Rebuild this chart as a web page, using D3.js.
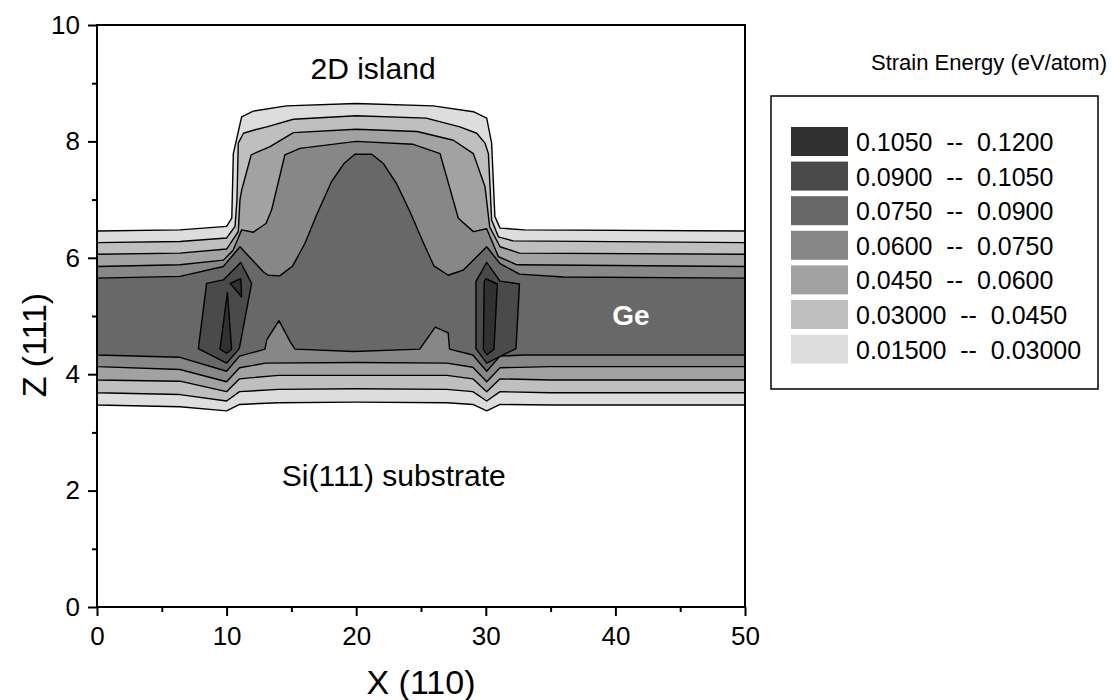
<!DOCTYPE html>
<html>
<head>
<meta charset="utf-8">
<script src="https://d3js.org/d3.v7.min.js"></script>
<style>
  body { margin: 0; background: #fff; }
  text { font-family: "Liberation Sans", Arial, sans-serif; fill: #000; }
  .axis path, .axis line { stroke: #000; stroke-width: 2px; }
  .axis text { font-size: 26px; }
  .contour { stroke: #000; stroke-width: 1.4px; stroke-linejoin: round; }
</style>
</head>
<body>
<script>
// strain energy levels (eV/atom) and their grey fills
var levels = [0.015, 0.030, 0.045, 0.060, 0.075, 0.090, 0.105];
var levelColors = ["#dddddd", "#bfbfbf", "#a2a2a2", "#878787", "#686868", "#4a4a4a", "#313131"];
var legendLabels = ["0.1050  --  0.1200", "0.0900  --  0.1050", "0.0750  --  0.0900",
  "0.0600  --  0.0750", "0.0450  --  0.0600", "0.03000  --  0.0450", "0.01500  --  0.03000"];

var xTicks = [0, 10, 20, 30, 40, 50];
var yTicks = [0, 2, 4, 6, 8, 10];

// contour lines, [x (110), z (111)]
// upper edges of the band (x from 0 to 50)
var up015 = [[0,6.46],[6.4,6.48],[10.0,6.54],[10.4,6.68],[10.52,7.79],[11.16,8.42],[12.06,8.52],[14.6,8.61],[20,8.65],[25.95,8.61],[29.04,8.51],[30.07,8.40],[30.45,7.97],[30.7,6.71],[31.1,6.51],[33,6.48],[50,6.46]];
var up030 = [[0,6.26],[6.4,6.28],[10.0,6.34],[10.65,6.54],[10.8,6.99],[10.9,7.97],[11.3,8.14],[12.2,8.20],[13.1,8.25],[15.15,8.38],[20,8.44],[25.4,8.40],[28,8.25],[29.3,8.14],[29.94,7.97],[30.2,7.79],[30.45,6.65],[30.97,6.36],[32.1,6.29],[50,6.26]];
var up045 = [[0,6.06],[6.4,6.08],[10.0,6.15],[10.9,6.45],[11.03,6.99],[11.16,7.16],[11.9,7.77],[13.35,7.91],[15.15,8.15],[20,8.21],[24.7,8.17],[27.5,8.02],[29.04,7.79],[29.94,7.22],[30.3,6.53],[31.1,6.19],[32.6,6.08],[50,6.06]];
var up060 = [[0,5.85],[6.4,5.88],[9.75,5.96],[10.5,6.13],[11.16,6.48],[12.06,6.44],[13.04,6.59],[13.47,6.82],[14.5,7.77],[15.66,7.88],[20,8.0],[24.4,7.95],[26.47,7.79],[27.88,6.68],[29.04,6.45],[30.07,6.5],[30.97,6.02],[32.4,5.88],[50,5.85]];
var up075 = [[0,5.65],[6.4,5.68],[9.75,5.85],[11.03,6.19],[12.83,5.76],[13.2,5.70],[14.1,5.69],[15.1,5.86],[16.05,6.25],[16.95,6.74],[18.1,7.31],[19.06,7.62],[19.9,7.78],[21.2,7.78],[22.1,7.62],[23.1,7.28],[24.15,6.79],[25.2,6.25],[26.0,5.86],[27.1,5.70],[28.27,5.79],[30.07,6.19],[31.1,5.9],[32.6,5.72],[36,5.67],[50,5.65]];
// lower edges of the band (x from 0 to 50)
var lo015 = [[0,3.47],[6.4,3.44],[10.0,3.37],[11.0,3.48],[14,3.51],[20,3.52],[27,3.51],[29,3.48],[30.07,3.37],[31.1,3.48],[35,3.47],[50,3.47]];
var lo030 = [[0,3.68],[6.4,3.65],[10.0,3.54],[11.0,3.70],[14,3.74],[20,3.75],[27,3.74],[29,3.70],[30.07,3.54],[31.1,3.70],[35,3.68],[50,3.68]];
var lo045 = [[0,3.90],[6.4,3.88],[10.0,3.70],[11.0,3.92],[14,3.98],[20,3.98],[27,3.98],[29,3.92],[30.07,3.70],[31.1,3.92],[35,3.90],[50,3.90]];
var lo060 = [[0,4.13],[6.4,4.08],[10.0,3.87],[11.0,4.11],[13,4.19],[20,4.20],[27,4.19],[29,4.12],[30.07,3.87],[31.1,4.11],[35,4.13],[50,4.13]];
var lo075 = [[0,4.33],[6.4,4.29],[10.0,4.05],[11.0,4.31],[12.96,4.43],[13.1,4.59],[14.04,4.92],[14.9,4.56],[15.28,4.43],[19.8,4.39],[24.9,4.43],[26.1,4.81],[27.1,4.71],[27.2,4.43],[29.0,4.33],[30.07,4.05],[31.1,4.31],[33,4.33],[50,4.33]];
// closed pockets
var pocket090L = [[8.46,5.56],[9.75,5.62],[11.09,5.92],[11.93,5.56],[10.98,4.44],[10.0,4.19],[7.82,4.44]];
var pocket090R = [[29.24,5.59],[30.07,5.92],[31.1,5.6],[32.6,5.55],[32.33,4.44],[30.07,4.19],[29.24,4.44]];
var pocket105a = [[10.06,5.40],[10.39,4.43],[10.0,4.36],[9.49,4.43]];
var pocket105b = [[10.26,5.56],[11.09,5.64],[11.16,5.33]];
var pocket105c = [[29.88,5.59],[30.0,5.64],[30.89,5.55],[30.63,4.43],[30.07,4.33],[29.81,4.43]];

var margin = {left: 97, top: 25},
    width = 648, height = 582;

var svg = d3.select("body").append("svg")
    .attr("width", 1112)
    .attr("height", 700);

var x = d3.scaleLinear().domain([0, 50]).range([margin.left, margin.left + width]);
var y = d3.scaleLinear().domain([0, 10]).range([margin.top + height, margin.top]);

var line = d3.line()
    .x(function(d) { return x(d[0]); })
    .y(function(d) { return y(d[1]); })
    .curve(d3.curveLinearClosed);

// filled regions, lowest level first
var regions = [
  {level: 0, pts: up015.concat(lo015.slice().reverse())},
  {level: 1, pts: up030.concat(lo030.slice().reverse())},
  {level: 2, pts: up045.concat(lo045.slice().reverse())},
  {level: 3, pts: up060.concat(lo060.slice().reverse())},
  {level: 4, pts: up075.concat(lo075.slice().reverse())},
  {level: 5, pts: pocket090L},
  {level: 5, pts: pocket090R},
  {level: 6, pts: pocket105a},
  {level: 6, pts: pocket105b},
  {level: 6, pts: pocket105c}
];

svg.append("g").selectAll("path")
  .data(regions)
  .enter().append("path")
    .attr("class", "contour")
    .attr("fill", function(d) { return levelColors[d.level]; })
    .attr("d", function(d) { return line(d.pts); });

// frame
svg.append("rect")
    .attr("x", margin.left).attr("y", margin.top)
    .attr("width", width).attr("height", height)
    .attr("fill", "none").attr("stroke", "#000").attr("stroke-width", 2);

// axes with minor ticks
var xAxis = d3.axisBottom(x).tickValues(xTicks).tickSize(9).tickPadding(11).tickFormat(d3.format("d"));
var yAxis = d3.axisLeft(y).tickValues(yTicks).tickSize(9).tickPadding(8).tickFormat(d3.format("d"));

svg.append("g").attr("class", "x axis")
    .attr("transform", "translate(0," + (margin.top + height) + ")")
    .call(xAxis)
  .call(function(g) { g.select(".domain").remove(); });

svg.append("g").attr("class", "x axis minor")
    .attr("transform", "translate(0," + (margin.top + height) + ")")
    .call(d3.axisBottom(x).tickValues(d3.range(5, 50, 10)).tickSize(5).tickFormat(""))
  .call(function(g) { g.select(".domain").remove(); });

svg.append("g").attr("class", "y axis")
    .attr("transform", "translate(" + margin.left + ",0)")
    .call(yAxis)
  .call(function(g) { g.select(".domain").remove(); });

svg.append("g").attr("class", "y axis minor")
    .attr("transform", "translate(" + margin.left + ",0)")
    .call(d3.axisLeft(y).tickValues(d3.range(1, 10, 2)).tickSize(5).tickFormat(""))
  .call(function(g) { g.select(".domain").remove(); });

// axis titles
svg.append("text")
    .attr("x", x(25)).attr("y", 694)
    .attr("text-anchor", "middle")
    .style("font-size", "34px")
    .text("X (110)");

svg.append("text")
    .attr("transform", "translate(46," + y(4.5) + ") rotate(-90)")
    .attr("text-anchor", "middle")
    .style("font-size", "34px")
    .text("Z (111)");

// annotations
svg.append("text")
    .attr("x", x(21.3)).attr("y", y(9.08))
    .attr("text-anchor", "middle")
    .style("font-size", "30px")
    .text("2D island");

svg.append("text")
    .attr("x", x(22.9)).attr("y", y(2.08))
    .attr("text-anchor", "middle")
    .style("font-size", "30px")
    .text("Si(111) substrate");

svg.append("text")
    .attr("x", x(41.2)).attr("y", y(4.85))
    .attr("text-anchor", "middle")
    .style("font-size", "28px")
    .style("font-weight", "bold")
    .style("fill", "#fff")
    .text("Ge");

// legend
svg.append("text")
    .attr("x", 989).attr("y", 70)
    .attr("text-anchor", "middle")
    .style("font-size", "22px")
    .text("Strain Energy (eV/atom)");

svg.append("rect")
    .attr("x", 771).attr("y", 96)
    .attr("width", 327).attr("height", 293)
    .attr("fill", "none").attr("stroke", "#000").attr("stroke-width", 1.5);

var legend = svg.append("g")
    .attr("transform", "translate(791,127)")
  .selectAll("g")
  .data(legendLabels)
  .enter().append("g")
    .attr("transform", function(d, i) { return "translate(0," + (i * 34.6) + ")"; });

legend.append("rect")
    .attr("width", 57).attr("height", 29)
    .attr("fill", function(d, i) { return levelColors[levelColors.length - 1 - i]; });

legend.append("text")
    .attr("x", 65).attr("y", 24)
    .style("font-size", "25px")
    .style("white-space", "pre")
    .text(function(d) { return d; });
</script>
</body>
</html>
